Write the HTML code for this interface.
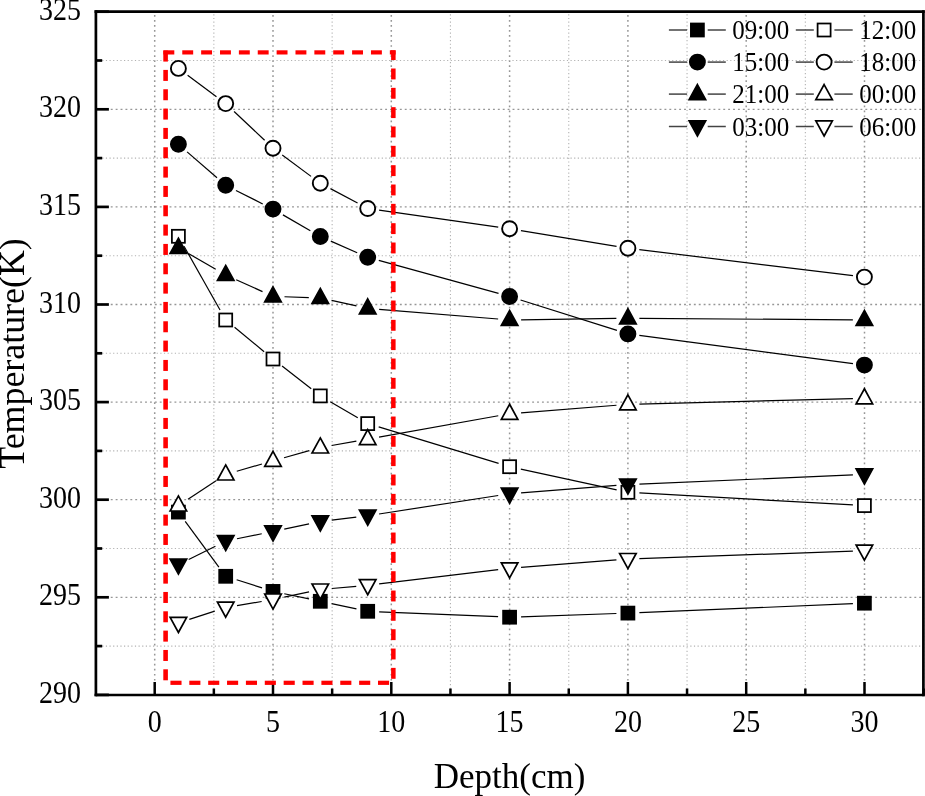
<!DOCTYPE html><html><head><meta charset="utf-8"><style>html,body{margin:0;padding:0;background:#fff;}svg{display:block;will-change:transform}</style></head><body>
<svg width="925" height="796" viewBox="0 0 925 796" font-family="'Liberation Serif', serif">
<rect width="925" height="796" fill="#fff"/>
<line x1="154.70" y1="14.95" x2="154.70" y2="693.70" stroke="#969696" stroke-width="1.5" stroke-dasharray="1.7 3.33"/><line x1="213.85" y1="14.20" x2="213.85" y2="693.70" stroke="#b2b2b2" stroke-width="1.1" stroke-dasharray="1.2 2.48"/><line x1="273.00" y1="14.95" x2="273.00" y2="693.70" stroke="#969696" stroke-width="1.5" stroke-dasharray="1.7 3.33"/><line x1="332.15" y1="14.20" x2="332.15" y2="693.70" stroke="#b2b2b2" stroke-width="1.1" stroke-dasharray="1.2 2.48"/><line x1="391.30" y1="14.95" x2="391.30" y2="693.70" stroke="#969696" stroke-width="1.5" stroke-dasharray="1.7 3.33"/><line x1="450.45" y1="14.20" x2="450.45" y2="693.70" stroke="#b2b2b2" stroke-width="1.1" stroke-dasharray="1.2 2.48"/><line x1="509.60" y1="14.95" x2="509.60" y2="693.70" stroke="#969696" stroke-width="1.5" stroke-dasharray="1.7 3.33"/><line x1="568.75" y1="14.20" x2="568.75" y2="693.70" stroke="#b2b2b2" stroke-width="1.1" stroke-dasharray="1.2 2.48"/><line x1="627.90" y1="14.95" x2="627.90" y2="693.70" stroke="#969696" stroke-width="1.5" stroke-dasharray="1.7 3.33"/><line x1="687.05" y1="14.20" x2="687.05" y2="693.70" stroke="#b2b2b2" stroke-width="1.1" stroke-dasharray="1.2 2.48"/><line x1="746.20" y1="14.95" x2="746.20" y2="693.70" stroke="#969696" stroke-width="1.5" stroke-dasharray="1.7 3.33"/><line x1="805.35" y1="14.20" x2="805.35" y2="693.70" stroke="#b2b2b2" stroke-width="1.1" stroke-dasharray="1.2 2.48"/><line x1="864.50" y1="14.95" x2="864.50" y2="693.70" stroke="#969696" stroke-width="1.5" stroke-dasharray="1.7 3.33"/><line x1="923.65" y1="14.20" x2="923.65" y2="693.70" stroke="#b2b2b2" stroke-width="1.1" stroke-dasharray="1.2 2.48"/><line x1="94.97" y1="646.10" x2="922.10" y2="646.10" stroke="#b2b2b2" stroke-width="1.1" stroke-dasharray="1.2 2.43"/><line x1="96.05" y1="597.30" x2="922.10" y2="597.30" stroke="#969696" stroke-width="1.3" stroke-dasharray="1.9 3.0"/><line x1="94.97" y1="548.50" x2="922.10" y2="548.50" stroke="#b2b2b2" stroke-width="1.1" stroke-dasharray="1.2 2.43"/><line x1="96.05" y1="499.70" x2="922.10" y2="499.70" stroke="#969696" stroke-width="1.3" stroke-dasharray="1.9 3.0"/><line x1="94.97" y1="450.90" x2="922.10" y2="450.90" stroke="#b2b2b2" stroke-width="1.1" stroke-dasharray="1.2 2.43"/><line x1="96.05" y1="402.10" x2="922.10" y2="402.10" stroke="#969696" stroke-width="1.3" stroke-dasharray="1.9 3.0"/><line x1="94.97" y1="353.30" x2="922.10" y2="353.30" stroke="#b2b2b2" stroke-width="1.1" stroke-dasharray="1.2 2.43"/><line x1="96.05" y1="304.50" x2="922.10" y2="304.50" stroke="#969696" stroke-width="1.3" stroke-dasharray="1.9 3.0"/><line x1="94.97" y1="255.70" x2="922.10" y2="255.70" stroke="#b2b2b2" stroke-width="1.1" stroke-dasharray="1.2 2.43"/><line x1="96.05" y1="206.90" x2="922.10" y2="206.90" stroke="#969696" stroke-width="1.3" stroke-dasharray="1.9 3.0"/><line x1="94.97" y1="158.10" x2="922.10" y2="158.10" stroke="#b2b2b2" stroke-width="1.1" stroke-dasharray="1.2 2.43"/><line x1="96.05" y1="109.30" x2="922.10" y2="109.30" stroke="#969696" stroke-width="1.3" stroke-dasharray="1.9 3.0"/><line x1="94.97" y1="60.50" x2="922.10" y2="60.50" stroke="#b2b2b2" stroke-width="1.1" stroke-dasharray="1.2 2.43"/>
<line x1="95.90" y1="694.90" x2="108.90" y2="694.90" stroke="#000" stroke-width="2.7"/><line x1="95.90" y1="646.10" x2="102.20" y2="646.10" stroke="#000" stroke-width="2.7"/><line x1="95.90" y1="597.30" x2="108.90" y2="597.30" stroke="#000" stroke-width="2.7"/><line x1="95.90" y1="548.50" x2="102.20" y2="548.50" stroke="#000" stroke-width="2.7"/><line x1="95.90" y1="499.70" x2="108.90" y2="499.70" stroke="#000" stroke-width="2.7"/><line x1="95.90" y1="450.90" x2="102.20" y2="450.90" stroke="#000" stroke-width="2.7"/><line x1="95.90" y1="402.10" x2="108.90" y2="402.10" stroke="#000" stroke-width="2.7"/><line x1="95.90" y1="353.30" x2="102.20" y2="353.30" stroke="#000" stroke-width="2.7"/><line x1="95.90" y1="304.50" x2="108.90" y2="304.50" stroke="#000" stroke-width="2.7"/><line x1="95.90" y1="255.70" x2="102.20" y2="255.70" stroke="#000" stroke-width="2.7"/><line x1="95.90" y1="206.90" x2="108.90" y2="206.90" stroke="#000" stroke-width="2.7"/><line x1="95.90" y1="158.10" x2="102.20" y2="158.10" stroke="#000" stroke-width="2.7"/><line x1="95.90" y1="109.30" x2="108.90" y2="109.30" stroke="#000" stroke-width="2.7"/><line x1="95.90" y1="60.50" x2="102.20" y2="60.50" stroke="#000" stroke-width="2.7"/><line x1="95.90" y1="11.70" x2="108.90" y2="11.70" stroke="#000" stroke-width="2.7"/><line x1="154.70" y1="695.00" x2="154.70" y2="682.00" stroke="#000" stroke-width="2.5"/><line x1="213.85" y1="695.00" x2="213.85" y2="688.50" stroke="#000" stroke-width="2.5"/><line x1="273.00" y1="695.00" x2="273.00" y2="682.00" stroke="#000" stroke-width="2.5"/><line x1="332.15" y1="695.00" x2="332.15" y2="688.50" stroke="#000" stroke-width="2.5"/><line x1="391.30" y1="695.00" x2="391.30" y2="682.00" stroke="#000" stroke-width="2.5"/><line x1="450.45" y1="695.00" x2="450.45" y2="688.50" stroke="#000" stroke-width="2.5"/><line x1="509.60" y1="695.00" x2="509.60" y2="682.00" stroke="#000" stroke-width="2.5"/><line x1="568.75" y1="695.00" x2="568.75" y2="688.50" stroke="#000" stroke-width="2.5"/><line x1="627.90" y1="695.00" x2="627.90" y2="682.00" stroke="#000" stroke-width="2.5"/><line x1="687.05" y1="695.00" x2="687.05" y2="688.50" stroke="#000" stroke-width="2.5"/><line x1="746.20" y1="695.00" x2="746.20" y2="682.00" stroke="#000" stroke-width="2.5"/><line x1="805.35" y1="695.00" x2="805.35" y2="688.50" stroke="#000" stroke-width="2.5"/><line x1="864.50" y1="695.00" x2="864.50" y2="682.00" stroke="#000" stroke-width="2.5"/><line x1="923.65" y1="695.00" x2="923.65" y2="688.50" stroke="#000" stroke-width="2.5"/>
<g stroke="#000" stroke-width="1.2"><line x1="185.22" y1="521.36" x2="218.88" y2="567.04"/><line x1="236.66" y1="579.80" x2="262.04" y2="587.90"/><line x1="284.26" y1="593.76" x2="309.04" y2="598.94"/><line x1="331.55" y1="603.67" x2="356.45" y2="608.93"/><line x1="379.19" y1="611.78" x2="498.11" y2="616.72"/><line x1="521.09" y1="616.80" x2="616.41" y2="613.50"/><line x1="639.39" y1="612.62" x2="852.91" y2="603.68"/><line x1="184.06" y1="246.31" x2="220.04" y2="309.99"/><line x1="234.57" y1="327.32" x2="264.13" y2="351.68"/><line x1="282.07" y1="366.07" x2="311.23" y2="388.83"/><line x1="330.23" y1="401.70" x2="357.77" y2="417.80"/><line x1="378.70" y1="426.94" x2="498.60" y2="463.36"/><line x1="520.84" y1="469.13" x2="616.66" y2="489.87"/><line x1="639.38" y1="492.95" x2="852.92" y2="504.95"/><line x1="187.09" y1="151.83" x2="217.01" y2="177.77"/><line x1="235.97" y1="190.47" x2="262.73" y2="203.93"/><line x1="282.95" y1="214.86" x2="310.35" y2="230.74"/><line x1="330.83" y1="241.12" x2="357.17" y2="252.68"/><line x1="378.78" y1="260.36" x2="498.52" y2="293.44"/><line x1="520.57" y1="299.97" x2="616.93" y2="330.43"/><line x1="639.30" y1="335.40" x2="853.00" y2="363.60"/><line x1="187.63" y1="75.27" x2="216.47" y2="96.73"/><line x1="234.07" y1="111.49" x2="264.63" y2="140.31"/><line x1="282.24" y1="155.04" x2="311.06" y2="176.36"/><line x1="330.45" y1="188.62" x2="357.55" y2="203.08"/><line x1="379.09" y1="210.12" x2="498.21" y2="227.08"/><line x1="520.95" y1="230.57" x2="616.55" y2="246.33"/><line x1="639.32" y1="249.59" x2="852.98" y2="275.71"/><line x1="188.37" y1="253.48" x2="215.73" y2="269.22"/><line x1="236.18" y1="279.69" x2="262.52" y2="291.61"/><line x1="284.49" y1="296.74" x2="308.81" y2="297.56"/><line x1="331.53" y1="300.41" x2="356.47" y2="305.89"/><line x1="379.16" y1="309.29" x2="498.14" y2="319.01"/><line x1="521.10" y1="319.78" x2="616.40" y2="318.42"/><line x1="639.40" y1="318.33" x2="852.90" y2="319.87"/><line x1="188.02" y1="499.15" x2="216.08" y2="480.75"/><line x1="236.75" y1="471.27" x2="261.95" y2="464.03"/><line x1="284.06" y1="457.72" x2="309.24" y2="450.58"/><line x1="331.63" y1="445.47" x2="356.37" y2="441.13"/><line x1="379.02" y1="437.12" x2="498.28" y2="415.78"/><line x1="521.06" y1="412.84" x2="616.44" y2="405.26"/><line x1="639.40" y1="404.05" x2="852.90" y2="398.55"/><line x1="188.70" y1="559.43" x2="215.40" y2="546.17"/><line x1="236.97" y1="538.76" x2="261.73" y2="533.74"/><line x1="284.25" y1="529.07" x2="309.05" y2="523.83"/><line x1="331.72" y1="520.08" x2="356.28" y2="517.12"/><line x1="379.06" y1="513.99" x2="498.24" y2="495.51"/><line x1="521.07" y1="492.86" x2="616.43" y2="485.44"/><line x1="639.39" y1="484.06" x2="852.91" y2="474.94"/><line x1="189.34" y1="619.41" x2="214.76" y2="611.19"/><line x1="237.03" y1="605.71" x2="261.67" y2="601.49"/><line x1="284.25" y1="597.17" x2="309.05" y2="591.93"/><line x1="331.75" y1="588.51" x2="356.25" y2="586.29"/><line x1="379.12" y1="583.89" x2="498.18" y2="569.71"/><line x1="521.06" y1="567.45" x2="616.44" y2="559.95"/><line x1="639.39" y1="558.64" x2="852.91" y2="551.06"/></g>
<rect x="171.90" y="505.60" width="13.00" height="13.00" fill="#000" stroke="#000" stroke-width="1.75"/><rect x="219.20" y="569.80" width="13.00" height="13.00" fill="#000" stroke="#000" stroke-width="1.75"/><rect x="266.50" y="584.90" width="13.00" height="13.00" fill="#000" stroke="#000" stroke-width="1.75"/><rect x="313.80" y="594.80" width="13.00" height="13.00" fill="#000" stroke="#000" stroke-width="1.75"/><rect x="361.20" y="604.80" width="13.00" height="13.00" fill="#000" stroke="#000" stroke-width="1.75"/><rect x="503.10" y="610.70" width="13.00" height="13.00" fill="#000" stroke="#000" stroke-width="1.75"/><rect x="621.40" y="606.60" width="13.00" height="13.00" fill="#000" stroke="#000" stroke-width="1.75"/><rect x="857.90" y="596.70" width="13.00" height="13.00" fill="#000" stroke="#000" stroke-width="1.75"/>
<rect x="171.90" y="229.80" width="13.00" height="13.00" fill="#fff" stroke="#000" stroke-width="1.75"/><rect x="219.20" y="313.50" width="13.00" height="13.00" fill="#fff" stroke="#000" stroke-width="1.75"/><rect x="266.50" y="352.50" width="13.00" height="13.00" fill="#fff" stroke="#000" stroke-width="1.75"/><rect x="313.80" y="389.40" width="13.00" height="13.00" fill="#fff" stroke="#000" stroke-width="1.75"/><rect x="361.20" y="417.10" width="13.00" height="13.00" fill="#fff" stroke="#000" stroke-width="1.75"/><rect x="503.10" y="460.20" width="13.00" height="13.00" fill="#fff" stroke="#000" stroke-width="1.75"/><rect x="621.40" y="485.80" width="13.00" height="13.00" fill="#fff" stroke="#000" stroke-width="1.75"/><rect x="857.90" y="499.10" width="13.00" height="13.00" fill="#fff" stroke="#000" stroke-width="1.75"/>
<circle cx="178.40" cy="144.30" r="7.5" fill="#000" stroke="#000" stroke-width="1.9"/><circle cx="225.70" cy="185.30" r="7.5" fill="#000" stroke="#000" stroke-width="1.9"/><circle cx="273.00" cy="209.10" r="7.5" fill="#000" stroke="#000" stroke-width="1.9"/><circle cx="320.30" cy="236.50" r="7.5" fill="#000" stroke="#000" stroke-width="1.9"/><circle cx="367.70" cy="257.30" r="7.5" fill="#000" stroke="#000" stroke-width="1.9"/><circle cx="509.60" cy="296.50" r="7.5" fill="#000" stroke="#000" stroke-width="1.9"/><circle cx="627.90" cy="333.90" r="7.5" fill="#000" stroke="#000" stroke-width="1.9"/><circle cx="864.40" cy="365.10" r="7.5" fill="#000" stroke="#000" stroke-width="1.9"/>
<circle cx="178.40" cy="68.40" r="7.5" fill="#fff" stroke="#000" stroke-width="1.9"/><circle cx="225.70" cy="103.60" r="7.5" fill="#fff" stroke="#000" stroke-width="1.9"/><circle cx="273.00" cy="148.20" r="7.5" fill="#fff" stroke="#000" stroke-width="1.9"/><circle cx="320.30" cy="183.20" r="7.5" fill="#fff" stroke="#000" stroke-width="1.9"/><circle cx="367.70" cy="208.50" r="7.5" fill="#fff" stroke="#000" stroke-width="1.9"/><circle cx="509.60" cy="228.70" r="7.5" fill="#fff" stroke="#000" stroke-width="1.9"/><circle cx="627.90" cy="248.20" r="7.5" fill="#fff" stroke="#000" stroke-width="1.9"/><circle cx="864.40" cy="277.10" r="7.5" fill="#fff" stroke="#000" stroke-width="1.9"/>
<polygon points="178.40,238.22 186.66,253.30 170.14,253.30" fill="#000" stroke="#000" stroke-width="1.7" stroke-linejoin="miter"/><polygon points="225.70,265.42 233.96,280.50 217.44,280.50" fill="#000" stroke="#000" stroke-width="1.7" stroke-linejoin="miter"/><polygon points="273.00,286.82 281.26,301.90 264.74,301.90" fill="#000" stroke="#000" stroke-width="1.7" stroke-linejoin="miter"/><polygon points="320.30,288.42 328.56,303.50 312.04,303.50" fill="#000" stroke="#000" stroke-width="1.7" stroke-linejoin="miter"/><polygon points="367.70,298.82 375.96,313.90 359.44,313.90" fill="#000" stroke="#000" stroke-width="1.7" stroke-linejoin="miter"/><polygon points="509.60,310.42 517.86,325.50 501.34,325.50" fill="#000" stroke="#000" stroke-width="1.7" stroke-linejoin="miter"/><polygon points="627.90,308.72 636.16,323.80 619.64,323.80" fill="#000" stroke="#000" stroke-width="1.7" stroke-linejoin="miter"/><polygon points="864.40,310.42 872.66,325.50 856.14,325.50" fill="#000" stroke="#000" stroke-width="1.7" stroke-linejoin="miter"/>
<polygon points="178.40,495.92 186.66,511.00 170.14,511.00" fill="#fff" stroke="#000" stroke-width="1.7" stroke-linejoin="miter"/><polygon points="225.70,464.92 233.96,480.00 217.44,480.00" fill="#fff" stroke="#000" stroke-width="1.7" stroke-linejoin="miter"/><polygon points="273.00,451.32 281.26,466.40 264.74,466.40" fill="#fff" stroke="#000" stroke-width="1.7" stroke-linejoin="miter"/><polygon points="320.30,437.92 328.56,453.00 312.04,453.00" fill="#fff" stroke="#000" stroke-width="1.7" stroke-linejoin="miter"/><polygon points="367.70,429.62 375.96,444.70 359.44,444.70" fill="#fff" stroke="#000" stroke-width="1.7" stroke-linejoin="miter"/><polygon points="509.60,404.22 517.86,419.30 501.34,419.30" fill="#fff" stroke="#000" stroke-width="1.7" stroke-linejoin="miter"/><polygon points="627.90,394.82 636.16,409.90 619.64,409.90" fill="#fff" stroke="#000" stroke-width="1.7" stroke-linejoin="miter"/><polygon points="864.40,388.72 872.66,403.80 856.14,403.80" fill="#fff" stroke="#000" stroke-width="1.7" stroke-linejoin="miter"/>
<polygon points="178.40,574.08 186.66,559.00 170.14,559.00" fill="#000" stroke="#000" stroke-width="1.7" stroke-linejoin="miter"/><polygon points="225.70,550.58 233.96,535.50 217.44,535.50" fill="#000" stroke="#000" stroke-width="1.7" stroke-linejoin="miter"/><polygon points="273.00,540.98 281.26,525.90 264.74,525.90" fill="#000" stroke="#000" stroke-width="1.7" stroke-linejoin="miter"/><polygon points="320.30,530.98 328.56,515.90 312.04,515.90" fill="#000" stroke="#000" stroke-width="1.7" stroke-linejoin="miter"/><polygon points="367.70,525.28 375.96,510.20 359.44,510.20" fill="#000" stroke="#000" stroke-width="1.7" stroke-linejoin="miter"/><polygon points="509.60,503.28 517.86,488.20 501.34,488.20" fill="#000" stroke="#000" stroke-width="1.7" stroke-linejoin="miter"/><polygon points="627.90,494.08 636.16,479.00 619.64,479.00" fill="#000" stroke="#000" stroke-width="1.7" stroke-linejoin="miter"/><polygon points="864.40,483.98 872.66,468.90 856.14,468.90" fill="#000" stroke="#000" stroke-width="1.7" stroke-linejoin="miter"/>
<polygon points="178.40,632.48 186.66,617.40 170.14,617.40" fill="#fff" stroke="#000" stroke-width="1.7" stroke-linejoin="miter"/><polygon points="225.70,617.18 233.96,602.10 217.44,602.10" fill="#fff" stroke="#000" stroke-width="1.7" stroke-linejoin="miter"/><polygon points="273.00,609.08 281.26,594.00 264.74,594.00" fill="#fff" stroke="#000" stroke-width="1.7" stroke-linejoin="miter"/><polygon points="320.30,599.08 328.56,584.00 312.04,584.00" fill="#fff" stroke="#000" stroke-width="1.7" stroke-linejoin="miter"/><polygon points="367.70,594.78 375.96,579.70 359.44,579.70" fill="#fff" stroke="#000" stroke-width="1.7" stroke-linejoin="miter"/><polygon points="509.60,577.88 517.86,562.80 501.34,562.80" fill="#fff" stroke="#000" stroke-width="1.7" stroke-linejoin="miter"/><polygon points="627.90,568.58 636.16,553.50 619.64,553.50" fill="#fff" stroke="#000" stroke-width="1.7" stroke-linejoin="miter"/><polygon points="864.40,560.18 872.66,545.10 856.14,545.10" fill="#fff" stroke="#000" stroke-width="1.7" stroke-linejoin="miter"/>
<g fill="#ff0000"><rect x="163.40" y="50.30" width="10.90" height="4.20"/><rect x="182.27" y="50.30" width="10.90" height="4.20"/><rect x="201.14" y="50.30" width="10.90" height="4.20"/><rect x="220.01" y="50.30" width="10.90" height="4.20"/><rect x="238.88" y="50.30" width="10.90" height="4.20"/><rect x="257.75" y="50.30" width="10.90" height="4.20"/><rect x="276.62" y="50.30" width="10.90" height="4.20"/><rect x="295.49" y="50.30" width="10.90" height="4.20"/><rect x="314.36" y="50.30" width="10.90" height="4.20"/><rect x="333.23" y="50.30" width="10.90" height="4.20"/><rect x="352.10" y="50.30" width="10.90" height="4.20"/><rect x="370.97" y="50.30" width="10.90" height="4.20"/><rect x="389.84" y="50.30" width="5.76" height="4.20"/><rect x="391.10" y="50.30" width="4.50" height="9.77"/><rect x="391.10" y="68.50" width="4.50" height="10.90"/><rect x="391.10" y="87.84" width="4.50" height="10.90"/><rect x="391.10" y="107.17" width="4.50" height="10.90"/><rect x="391.10" y="126.50" width="4.50" height="10.90"/><rect x="391.10" y="145.84" width="4.50" height="10.90"/><rect x="391.10" y="165.18" width="4.50" height="10.90"/><rect x="391.10" y="184.51" width="4.50" height="10.90"/><rect x="391.10" y="203.84" width="4.50" height="10.90"/><rect x="391.10" y="223.18" width="4.50" height="10.90"/><rect x="391.10" y="242.52" width="4.50" height="10.90"/><rect x="391.10" y="261.85" width="4.50" height="10.90"/><rect x="391.10" y="281.19" width="4.50" height="10.90"/><rect x="391.10" y="300.52" width="4.50" height="10.90"/><rect x="391.10" y="319.86" width="4.50" height="10.90"/><rect x="391.10" y="339.19" width="4.50" height="10.90"/><rect x="391.10" y="358.53" width="4.50" height="10.90"/><rect x="391.10" y="377.86" width="4.50" height="10.90"/><rect x="391.10" y="397.19" width="4.50" height="10.90"/><rect x="391.10" y="416.53" width="4.50" height="10.90"/><rect x="391.10" y="435.87" width="4.50" height="10.90"/><rect x="391.10" y="455.20" width="4.50" height="10.90"/><rect x="391.10" y="474.54" width="4.50" height="10.90"/><rect x="391.10" y="493.87" width="4.50" height="10.90"/><rect x="391.10" y="513.21" width="4.50" height="10.90"/><rect x="391.10" y="532.54" width="4.50" height="10.90"/><rect x="391.10" y="551.88" width="4.50" height="10.90"/><rect x="391.10" y="571.21" width="4.50" height="10.90"/><rect x="391.10" y="590.55" width="4.50" height="10.90"/><rect x="391.10" y="609.88" width="4.50" height="10.90"/><rect x="391.10" y="629.22" width="4.50" height="10.90"/><rect x="391.10" y="648.55" width="4.50" height="10.90"/><rect x="391.10" y="667.88" width="4.50" height="10.90"/><rect x="378.00" y="680.70" width="11.10" height="4.20"/><rect x="359.13" y="680.70" width="11.10" height="4.20"/><rect x="340.26" y="680.70" width="11.10" height="4.20"/><rect x="321.39" y="680.70" width="11.10" height="4.20"/><rect x="302.52" y="680.70" width="11.10" height="4.20"/><rect x="283.65" y="680.70" width="11.10" height="4.20"/><rect x="264.78" y="680.70" width="11.10" height="4.20"/><rect x="245.91" y="680.70" width="11.10" height="4.20"/><rect x="227.04" y="680.70" width="11.10" height="4.20"/><rect x="208.17" y="680.70" width="11.10" height="4.20"/><rect x="189.30" y="680.70" width="11.10" height="4.20"/><rect x="170.43" y="680.70" width="11.10" height="4.20"/><rect x="163.30" y="669.30" width="4.60" height="11.00"/><rect x="163.30" y="649.96" width="4.60" height="11.00"/><rect x="163.30" y="630.63" width="4.60" height="11.00"/><rect x="163.30" y="611.29" width="4.60" height="11.00"/><rect x="163.30" y="591.96" width="4.60" height="11.00"/><rect x="163.30" y="572.62" width="4.60" height="11.00"/><rect x="163.30" y="553.29" width="4.60" height="11.00"/><rect x="163.30" y="533.95" width="4.60" height="11.00"/><rect x="163.30" y="514.62" width="4.60" height="11.00"/><rect x="163.30" y="495.28" width="4.60" height="11.00"/><rect x="163.30" y="475.95" width="4.60" height="11.00"/><rect x="163.30" y="456.61" width="4.60" height="11.00"/><rect x="163.30" y="437.28" width="4.60" height="11.00"/><rect x="163.30" y="417.94" width="4.60" height="11.00"/><rect x="163.30" y="398.61" width="4.60" height="11.00"/><rect x="163.30" y="379.27" width="4.60" height="11.00"/><rect x="163.30" y="359.94" width="4.60" height="11.00"/><rect x="163.30" y="340.60" width="4.60" height="11.00"/><rect x="163.30" y="321.27" width="4.60" height="11.00"/><rect x="163.30" y="301.93" width="4.60" height="11.00"/><rect x="163.30" y="282.60" width="4.60" height="11.00"/><rect x="163.30" y="263.26" width="4.60" height="11.00"/><rect x="163.30" y="243.93" width="4.60" height="11.00"/><rect x="163.30" y="224.59" width="4.60" height="11.00"/><rect x="163.30" y="205.26" width="4.60" height="11.00"/><rect x="163.30" y="185.92" width="4.60" height="11.00"/><rect x="163.30" y="166.59" width="4.60" height="11.00"/><rect x="163.30" y="147.25" width="4.60" height="11.00"/><rect x="163.30" y="127.92" width="4.60" height="11.00"/><rect x="163.30" y="108.58" width="4.60" height="11.00"/><rect x="163.30" y="89.25" width="4.60" height="11.00"/><rect x="163.30" y="69.91" width="4.60" height="11.00"/><rect x="163.30" y="50.58" width="4.60" height="11.00"/></g>
<g stroke="#000" stroke-width="2.7" stroke-linecap="square"><line x1="95.9" y1="11.7" x2="923.4" y2="11.7"/><line x1="95.9" y1="695.0" x2="923.4" y2="695.0"/><line x1="95.9" y1="11.7" x2="95.9" y2="695.0"/><line x1="923.4" y1="11.7" x2="923.4" y2="695.0"/></g>
<g font-size="28" fill="#000"><text transform="translate(81,703.00) scale(1,1.11)" text-anchor="end">290</text><text transform="translate(81,605.40) scale(1,1.11)" text-anchor="end">295</text><text transform="translate(81,507.80) scale(1,1.11)" text-anchor="end">300</text><text transform="translate(81,410.20) scale(1,1.11)" text-anchor="end">305</text><text transform="translate(81,312.60) scale(1,1.11)" text-anchor="end">310</text><text transform="translate(81,215.00) scale(1,1.11)" text-anchor="end">315</text><text transform="translate(81,117.40) scale(1,1.11)" text-anchor="end">320</text><text transform="translate(81,19.80) scale(1,1.11)" text-anchor="end">325</text><text transform="translate(154.70,731.6) scale(1,1.11)" text-anchor="middle">0</text><text transform="translate(273.00,731.6) scale(1,1.11)" text-anchor="middle">5</text><text transform="translate(391.30,731.6) scale(1,1.11)" text-anchor="middle">10</text><text transform="translate(509.60,731.6) scale(1,1.11)" text-anchor="middle">15</text><text transform="translate(627.90,731.6) scale(1,1.11)" text-anchor="middle">20</text><text transform="translate(746.20,731.6) scale(1,1.11)" text-anchor="middle">25</text><text transform="translate(864.50,731.6) scale(1,1.11)" text-anchor="middle">30</text></g>
<text x="509.5" y="787.6" text-anchor="middle" font-size="35">Depth(cm)</text>
<text transform="translate(23.8,353.5) rotate(-90) scale(1.025,1)" x="0" y="0" text-anchor="middle" font-size="35">Temperature(K)</text>
<line x1="668.90" y1="30.00" x2="687.10" y2="30.00" stroke="#444" stroke-width="1.5"/><line x1="707.70" y1="30.00" x2="725.80" y2="30.00" stroke="#444" stroke-width="1.5"/><rect x="690.90" y="23.50" width="13.00" height="13.00" fill="#000" stroke="#000" stroke-width="1.75"/><text transform="translate(732.20,39.30) scale(1,1.11)" font-size="25">09:00</text><line x1="795.80" y1="30.00" x2="813.80" y2="30.00" stroke="#444" stroke-width="1.5"/><line x1="834.40" y1="30.00" x2="852.70" y2="30.00" stroke="#444" stroke-width="1.5"/><rect x="817.60" y="23.50" width="13.00" height="13.00" fill="#fff" stroke="#000" stroke-width="1.75"/><text transform="translate(859.30,39.30) scale(1,1.11)" font-size="25">12:00</text><line x1="668.90" y1="62.10" x2="687.10" y2="62.10" stroke="#444" stroke-width="1.5"/><line x1="707.70" y1="62.10" x2="725.80" y2="62.10" stroke="#444" stroke-width="1.5"/><circle cx="697.40" cy="62.10" r="7.5" fill="#000" stroke="#000" stroke-width="1.9"/><text transform="translate(732.20,71.40) scale(1,1.11)" font-size="25">15:00</text><line x1="795.80" y1="62.10" x2="813.80" y2="62.10" stroke="#444" stroke-width="1.5"/><line x1="834.40" y1="62.10" x2="852.70" y2="62.10" stroke="#444" stroke-width="1.5"/><circle cx="824.10" cy="62.10" r="7.5" fill="#fff" stroke="#000" stroke-width="1.9"/><text transform="translate(859.30,71.40) scale(1,1.11)" font-size="25">18:00</text><line x1="668.90" y1="94.10" x2="687.10" y2="94.10" stroke="#444" stroke-width="1.5"/><line x1="707.70" y1="94.10" x2="725.80" y2="94.10" stroke="#444" stroke-width="1.5"/><polygon points="697.40,84.57 705.66,99.65 689.14,99.65" fill="#000" stroke="#000" stroke-width="1.7" stroke-linejoin="miter"/><text transform="translate(732.20,103.40) scale(1,1.11)" font-size="25">21:00</text><line x1="795.80" y1="94.10" x2="813.80" y2="94.10" stroke="#444" stroke-width="1.5"/><line x1="834.40" y1="94.10" x2="852.70" y2="94.10" stroke="#444" stroke-width="1.5"/><polygon points="824.10,84.57 832.36,99.65 815.84,99.65" fill="#fff" stroke="#000" stroke-width="1.7" stroke-linejoin="miter"/><text transform="translate(859.30,103.40) scale(1,1.11)" font-size="25">00:00</text><line x1="668.90" y1="126.50" x2="687.10" y2="126.50" stroke="#444" stroke-width="1.5"/><line x1="707.70" y1="126.50" x2="725.80" y2="126.50" stroke="#444" stroke-width="1.5"/><polygon points="697.40,136.03 705.66,120.95 689.14,120.95" fill="#000" stroke="#000" stroke-width="1.7" stroke-linejoin="miter"/><text transform="translate(732.20,135.80) scale(1,1.11)" font-size="25">03:00</text><line x1="795.80" y1="126.50" x2="813.80" y2="126.50" stroke="#444" stroke-width="1.5"/><line x1="834.40" y1="126.50" x2="852.70" y2="126.50" stroke="#444" stroke-width="1.5"/><polygon points="824.10,136.03 832.36,120.95 815.84,120.95" fill="#fff" stroke="#000" stroke-width="1.7" stroke-linejoin="miter"/><text transform="translate(859.30,135.80) scale(1,1.11)" font-size="25">06:00</text>
</svg></body></html>
